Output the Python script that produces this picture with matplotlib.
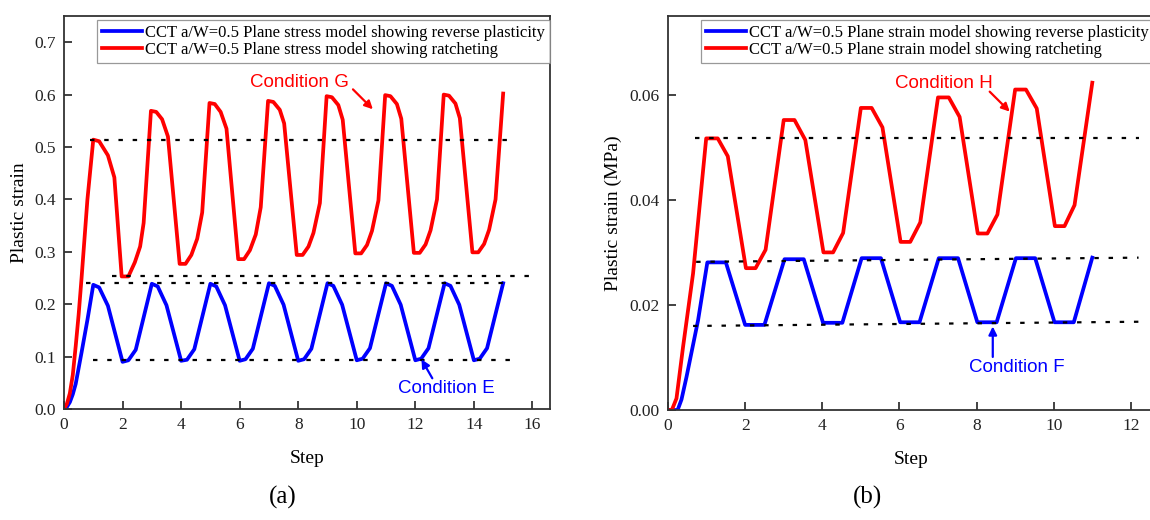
import matplotlib
matplotlib.use('Agg')
import matplotlib.pyplot as plt

# ---- data ----
# (a) plane stress
xa_blue = [0, 0.1, 0.2, 0.3, 0.4, 0.6, 0.8, 1.0,
           1.2, 1.5, 2.0, 2.2, 2.45,
           3.0, 3.2, 3.5, 4.0, 4.2, 4.45,
           5.0, 5.2, 5.5, 6.0, 6.2, 6.45,
           7.0, 7.2, 7.5, 8.0, 8.2, 8.45,
           9.0, 9.2, 9.5, 10.0, 10.2, 10.45,
           11.0, 11.2, 11.5, 12.0, 12.2, 12.45,
           13.0, 13.2, 13.5, 14.0, 14.2, 14.45,
           15.0]
ya_blue = [0, 0.004, 0.013, 0.028, 0.048, 0.108, 0.170, 0.237,
           0.232, 0.197, 0.090, 0.093, 0.113,
           0.239, 0.234, 0.198, 0.092, 0.094, 0.114,
           0.239, 0.234, 0.198, 0.092, 0.095, 0.115,
           0.240, 0.235, 0.199, 0.092, 0.095, 0.115,
           0.240, 0.235, 0.199, 0.093, 0.096, 0.116,
           0.240, 0.235, 0.199, 0.093, 0.096, 0.116,
           0.240, 0.235, 0.199, 0.093, 0.096, 0.116,
           0.240]

xa_red = [0, 0.1, 0.2, 0.3, 0.4, 0.5, 0.6, 0.8, 1.0,
          1.2, 1.5, 1.72, 1.97, 2.2, 2.42, 2.6, 2.72,
          2.97, 3.15, 3.35, 3.55, 3.95, 4.15, 4.35, 4.55, 4.72,
          4.97, 5.15, 5.35, 5.55, 5.95, 6.15, 6.35, 6.55, 6.72,
          6.97, 7.15, 7.37, 7.52, 7.95, 8.15, 8.35, 8.52, 8.74,
          8.97, 9.15, 9.37, 9.52, 9.95, 10.15, 10.35, 10.52, 10.74,
          10.97, 11.15, 11.37, 11.52, 11.95, 12.15, 12.35, 12.52, 12.74,
          12.97, 13.15, 13.37, 13.52, 13.95, 14.15, 14.35, 14.52, 14.74,
          15.0]
ya_red = [0, 0.01, 0.03, 0.065, 0.12, 0.18, 0.25, 0.40, 0.514,
          0.511, 0.484, 0.442, 0.253, 0.253, 0.280, 0.310, 0.355,
          0.569, 0.567, 0.553, 0.520, 0.277, 0.277, 0.294, 0.325, 0.375,
          0.584, 0.582, 0.567, 0.535, 0.286, 0.286, 0.303, 0.333, 0.385,
          0.588, 0.586, 0.571, 0.545, 0.294, 0.294, 0.310, 0.336, 0.393,
          0.597, 0.595, 0.580, 0.552, 0.297, 0.297, 0.313, 0.340, 0.398,
          0.599, 0.597, 0.582, 0.554, 0.298, 0.298, 0.314, 0.341, 0.400,
          0.600, 0.598, 0.583, 0.555, 0.299, 0.299, 0.315, 0.342, 0.400,
          0.602]

# (b) plane strain
xb_blue = [0, 0.25, 0.35, 0.48, 0.78, 1.02, 1.5,
           2.0, 2.5, 3.02, 3.52, 4.02, 4.52, 5.02, 5.52,
           6.02, 6.52, 7.02, 7.52, 8.02, 8.52, 9.02, 9.52,
           10.02, 10.52, 11.0]
yb_blue = [0, 0, 0.002, 0.0063, 0.0171, 0.0281, 0.0281,
           0.0162, 0.0162, 0.0287, 0.0287, 0.0166, 0.0166, 0.0289, 0.0289,
           0.0167, 0.0167, 0.0289, 0.0289, 0.0167, 0.0167, 0.0289, 0.0289,
           0.0167, 0.0167, 0.0290]

xb_red = [0, 0.1, 0.22, 0.39, 0.65, 0.99,
          1.29, 1.55, 2.02, 2.27, 2.53,
          3.0, 3.28, 3.56, 4.03, 4.28, 4.54,
          5.0, 5.28, 5.56, 6.03, 6.28, 6.54,
          7.0, 7.28, 7.56, 8.03, 8.28, 8.54,
          9.0, 9.28, 9.56, 10.03, 10.28, 10.54,
          11.0]
yb_red = [0, 0, 0.0022, 0.012, 0.026, 0.0517,
          0.0517, 0.0483, 0.0270, 0.0270, 0.0305,
          0.0552, 0.0552, 0.0514, 0.0300, 0.0300, 0.0337,
          0.0575, 0.0575, 0.0538, 0.0320, 0.0320, 0.0357,
          0.0595, 0.0595, 0.0558, 0.0336, 0.0336, 0.0372,
          0.0610, 0.0610, 0.0574, 0.0350, 0.0350, 0.0390,
          0.0623]

# dotted guide lines: (x pair, y pair)
guides_a = [([0.9, 15.2], [0.514, 0.514]),
            ([1.65, 16.15], [0.254, 0.254]),
            ([0.75, 15.3], [0.240, 0.240]),
            ([1.0, 15.5], [0.0935, 0.0935])]
guides_b = [([0.7, 12.2], [0.0517, 0.0517]),
            ([0.73, 12.2], [0.0282, 0.0290]),
            ([0.65, 12.2], [0.0160, 0.0168])]

labels_a = ['CCT a/W=0.5 Plane stress model showing reverse plasticity',
            'CCT a/W=0.5 Plane stress model showing ratcheting']
labels_b = ['CCT a/W=0.5 Plane strain model showing reverse plasticity',
            'CCT a/W=0.5 Plane strain model showing ratcheting']

serif = 'Liberation Serif'
sans = 'Liberation Sans'
plt.rcParams['font.family'] = serif

fig = plt.figure(figsize=(11.5, 5.2), dpi=100)
ax1 = fig.add_axes([64/1150, 111/520, 486/1150, 393/520])
ax2 = fig.add_axes([668/1150, 110/520, 486/1150, 394/520])


def style(ax):
    for s in ax.spines.values():
        s.set_color('#333333')
        s.set_linewidth(1.3)
    ax.tick_params(direction='in', length=6, width=1.2, labelsize=12.5,
                   colors='#222222', top=False, right=False, pad=6)


def panel(ax, xb, yb, xr, yr, guides, labels):
    ax.plot(xb, yb, color='#0000ff', lw=2.7, label=labels[0])
    ax.plot(xr, yr, color='#ff0000', lw=2.7, label=labels[1])
    for gx, gy in guides:
        ax.plot(gx, gy, color='black', lw=1.6, ls=(0, (2, 4.4)))
    leg = ax.legend(loc='upper left', bbox_to_anchor=(0.068, 0.99),
                    fontsize=12, frameon=True, fancybox=False,
                    handlelength=2.4, handletextpad=0.2, labelspacing=0.1,
                    borderpad=0.28, borderaxespad=0)
    leg.get_frame().set_edgecolor('#808080')
    leg.get_frame().set_linewidth(0.9)
    style(ax)


panel(ax1, xa_blue, ya_blue, xa_red, ya_red, guides_a, labels_a)
ax1.set_xlim(0, 16.6)
ax1.set_ylim(0, 0.75)
ax1.set_xticks(range(0, 17, 2))
ax1.set_yticks([0, 0.1, 0.2, 0.3, 0.4, 0.5, 0.6, 0.7])
ax1.set_yticklabels(['0.0', '0.1', '0.2', '0.3', '0.4', '0.5', '0.6', '0.7'])
ax1.set_xlabel('Step', fontsize=14, labelpad=12)
ax1.set_ylabel('Plastic strain', fontsize=14, labelpad=4)

ax1.text(8.05, 0.623, 'Condition G', color='#ff0000', fontsize=13.5,
         family=sans, ha='center', va='center')
ax1.annotate('', xy=(10.55, 0.572), xytext=(9.87, 0.610),
             arrowprops=dict(arrowstyle='-|>', color='#ff0000', lw=1.6,
                             mutation_scale=12, shrinkA=0, shrinkB=0))
ax1.text(13.06, 0.0395, 'Condition E', color='#0000ff', fontsize=13.5,
         family=sans, ha='center', va='center')
ax1.annotate('', xy=(12.21, 0.0948), xytext=(12.58, 0.0586),
             arrowprops=dict(arrowstyle='-|>', color='#0000ff', lw=1.6,
                             mutation_scale=12, shrinkA=0, shrinkB=0))

panel(ax2, xb_blue, yb_blue, xb_red, yb_red, guides_b, labels_b)
ax2.set_xlim(0, 12.6)
ax2.set_ylim(0, 0.075)
ax2.set_xticks(range(0, 13, 2))
ax2.set_yticks([0, 0.02, 0.04, 0.06])
ax2.set_yticklabels(['0.00', '0.02', '0.04', '0.06'])
ax2.set_xlabel('Step', fontsize=14, labelpad=12)
ax2.set_ylabel('Plastic strain (MPa)', fontsize=14, labelpad=5)

ax2.text(7.15, 0.0621, 'Condition H', color='#ff0000', fontsize=13.5,
         family=sans, ha='center', va='center')
ax2.annotate('', xy=(8.86, 0.0568), xytext=(8.34, 0.0606),
             arrowprops=dict(arrowstyle='-|>', color='#ff0000', lw=1.6,
                             mutation_scale=12, shrinkA=0, shrinkB=0))
ax2.text(9.05, 0.008, 'Condition F', color='#0000ff', fontsize=13.5,
         family=sans, ha='center', va='center')
ax2.annotate('', xy=(8.42, 0.0159), xytext=(8.42, 0.0101),
             arrowprops=dict(arrowstyle='-|>', color='#0000ff', lw=1.6,
                             mutation_scale=12, shrinkA=0, shrinkB=0))

fig.text(283/1150, 1 - 497/520, '(a)', fontsize=18, ha='center', va='center')
fig.text(867/1150, 1 - 497/520, '(b)', fontsize=18, ha='center', va='center')

fig.savefig('out.png', dpi=100)
